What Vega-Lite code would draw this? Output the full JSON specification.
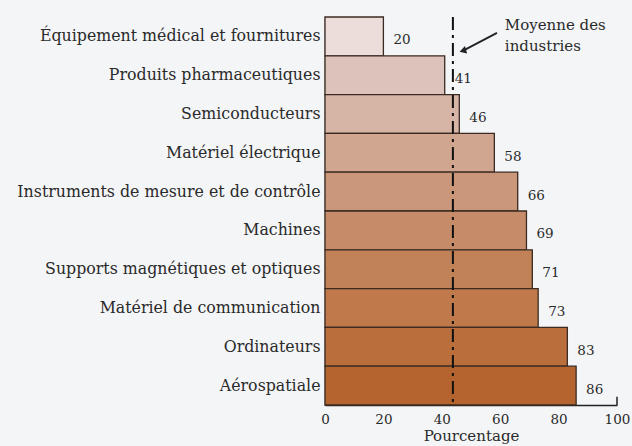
{
  "$schema": "https://vega.github.io/schema/vega-lite/v6.json",
  "autosize": {"type": "none"},
  "width": 292,
  "height": 388,
  "padding": {"left": 325, "top": 17, "right": 15, "bottom": 41},
  "background": "#f4f5f7",
  "config": {
    "view": {"stroke": null},
    "font": "DejaVu Serif",
    "axis": {"labelFont": "DejaVu Serif", "titleFont": "DejaVu Serif"}
  },
  "datasets": {
    "main": [
      {"industrie": "Équipement médical et fournitures", "pct": 20},
      {"industrie": "Produits pharmaceutiques", "pct": 41},
      {"industrie": "Semiconducteurs", "pct": 46},
      {"industrie": "Matériel électrique", "pct": 58},
      {"industrie": "Instruments de mesure et de contrôle", "pct": 66},
      {"industrie": "Machines", "pct": 69},
      {"industrie": "Supports magnétiques et optiques", "pct": 71},
      {"industrie": "Matériel de communication", "pct": 73},
      {"industrie": "Ordinateurs", "pct": 83},
      {"industrie": "Aérospatiale", "pct": 86}
    ]
  },
  "resolve": {"scale": {"y": "independent"}, "axis": {"y": "independent"}},
  "layer": [
    {
      "data": {"name": "main"},
      "layer": [
        {
          "mark": {"type": "bar", "stroke": "#3b2b22", "strokeWidth": 1.3},
          "encoding": {
            "y": {
              "field": "industrie", "type": "nominal", "sort": null,
              "scale": {"paddingInner": 0, "paddingOuter": 0},
              "axis": {"title": null, "ticks": false, "domain": true, "domainColor": "#222", "domainWidth": 1.5,
                       "labelFontSize": 15.8, "labelColor": "#2a2a2a", "labelPadding": 5, "labelLimit": 324}
            },
            "x": {
              "field": "pct", "type": "quantitative",
              "scale": {"domain": [0, 100], "nice": false},
              "axis": {"values": [0, 20, 40, 60, 80, 100], "grid": false, "ticks": false, "domainColor": "#222", "domainWidth": 1.5,
                       "labelFontSize": 13.5, "labelColor": "#2a2a2a", "labelPadding": 7, "labelFlush": false,
                       "title": "Pourcentage", "titleFontSize": 15, "titleFontWeight": "normal", "titleColor": "#2a2a2a", "titlePadding": 3}
            },
            "color": {
              "field": "industrie", "type": "nominal", "sort": null, "legend": null,
              "scale": {
                "domain": ["Équipement médical et fournitures", "Produits pharmaceutiques", "Semiconducteurs", "Matériel électrique", "Instruments de mesure et de contrôle", "Machines", "Supports magnétiques et optiques", "Matériel de communication", "Ordinateurs", "Aérospatiale"],
                "range": ["#ecdcda", "#dcc2ba", "#d6b4a6", "#d1a690", "#ca977a", "#c68b68", "#c28258", "#bf794a", "#ba6e3c", "#b56430"]
              }
            }
          }
        },
        {
          "mark": {"type": "text", "align": "left", "dx": 10, "dy": 4, "fontSize": 13.5, "color": "#2a2a2a"},
          "encoding": {
            "y": {"field": "industrie", "type": "nominal", "sort": null},
            "x": {"field": "pct", "type": "quantitative"},
            "text": {"field": "pct", "type": "quantitative"}
          }
        }
      ]
    },
    {
      "data": {"values": [{"x": 43.8, "y": 0, "y2": 10}]},
      "mark": {"type": "rule", "color": "#111", "strokeWidth": 2, "strokeDash": [13, 5, 3, 5]},
      "encoding": {
        "x": {"field": "x", "type": "quantitative"},
        "y": {"field": "y", "type": "quantitative", "scale": {"domain": [0, 10], "reverse": true, "nice": false}, "axis": null},
        "y2": {"field": "y2"}
      }
    },
    {
      "data": {"values": [{"x": 58.9, "x2": 47.5, "y": 0.41, "y2": 0.86}]},
      "mark": {"type": "rule", "color": "#222", "strokeWidth": 1.8},
      "encoding": {
        "x": {"field": "x", "type": "quantitative"},
        "x2": {"field": "x2"},
        "y": {"field": "y", "type": "quantitative", "scale": {"domain": [0, 10], "reverse": true, "nice": false}, "axis": null},
        "y2": {"field": "y2"}
      }
    },
    {
      "data": {"values": [{"x": 47.2, "y": 0.87}]},
      "mark": {"type": "point", "shape": "triangle-left", "filled": true, "color": "#222", "size": 60, "angle": 344, "opacity": 1},
      "encoding": {
        "x": {"field": "x", "type": "quantitative"},
        "y": {"field": "y", "type": "quantitative", "scale": {"domain": [0, 10], "reverse": true, "nice": false}, "axis": null}
      }
    },
    {
      "data": {"values": [{"x": 100, "y": 9.79, "y2": 10}]},
      "mark": {"type": "rule", "color": "#222", "strokeWidth": 1.5},
      "encoding": {
        "x": {"field": "x", "type": "quantitative"},
        "y": {"field": "y", "type": "quantitative", "scale": {"domain": [0, 10], "reverse": true, "nice": false}, "axis": null},
        "y2": {"field": "y2"}
      }
    },
    {
      "data": {"values": [{"x": 61.6, "y": 0.2, "t": "Moyenne des"}, {"x": 61.6, "y": 0.76, "t": "industries"}]},
      "mark": {"type": "text", "align": "left", "baseline": "middle", "fontSize": 15, "color": "#2a2a2a"},
      "encoding": {
        "x": {"field": "x", "type": "quantitative"},
        "y": {"field": "y", "type": "quantitative", "scale": {"domain": [0, 10], "reverse": true, "nice": false}, "axis": null},
        "text": {"field": "t"}
      }
    }
  ]
}
